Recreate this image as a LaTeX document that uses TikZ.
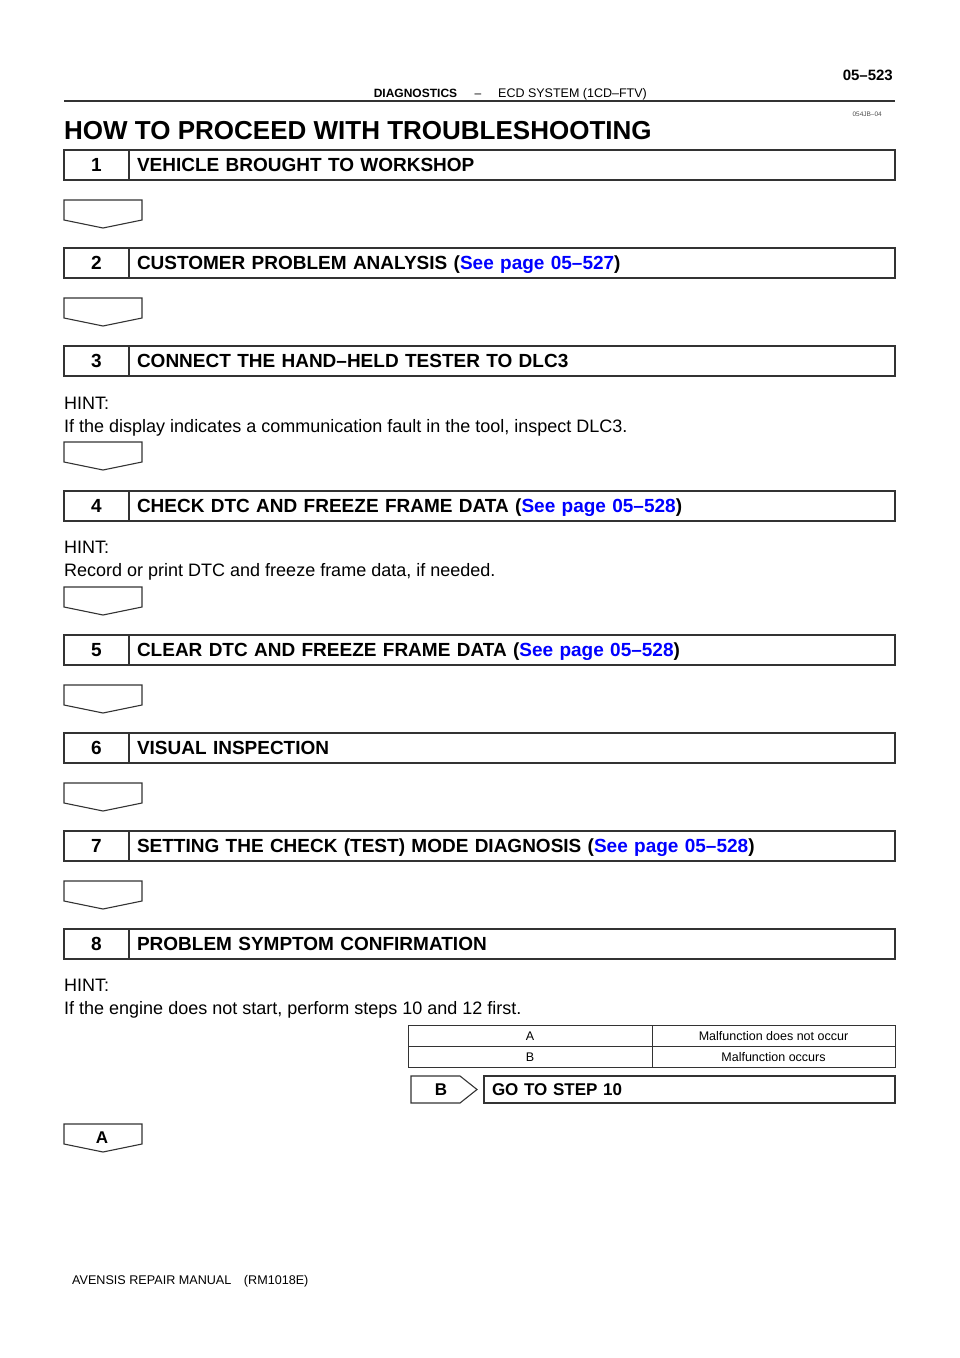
\documentclass[tikz,border=0pt]{standalone}
\usepackage{fontspec}
\setmainfont{Liberation Sans}
\definecolor{linkblue}{RGB}{0,0,255}
\begin{document}
\begin{tikzpicture}[x=1pt,y=-1pt,line join=miter,
  boxline/.style={draw=black!80,line width=1.1pt,outer sep=0pt},
  numcell/.style={boxline,minimum width=65pt,minimum height=30pt,inner sep=0pt,
    font=\fontsize{19}{19}\selectfont\bfseries,text height=13.6pt,text depth=0pt},
  textcell/.style={boxline,anchor=west,text width=750pt,inner xsep=8pt,inner ysep=0pt,
    minimum height=30pt,align=left,
    font=\fontsize{19}{19}\selectfont\bfseries,text height=13.6pt,text depth=0pt},
  hint/.style={anchor=base west,inner sep=0pt,font=\fontsize{18}{18}\selectfont},
  tcell/.style={draw=black!80,line width=0.9pt,outer sep=0pt,minimum height=21pt,inner sep=0pt,
    font=\fontsize{12.5}{12.5}\selectfont,text height=9pt,text depth=0pt},
  downarr/.pic={\draw[boxline] (-39,0) -- (39,0) -- (39,20) -- (0,28) -- (-39,20) -- cycle;},
  lnk/.style={text=linkblue}]
\useasboundingbox (0,0) rectangle (960,1358);
% header
\node[anchor=base east,inner sep=0pt,font=\fontsize{15}{15}\selectfont\bfseries] (pg) at (893,80) {05–523};
\node[anchor=base,inner sep=0pt,font=\fontsize{12}{12}\selectfont\bfseries] (hd1) at (415.5,97) {DIAGNOSTICS};
\node[anchor=base,inner sep=0pt,font=\fontsize{12}{12}\selectfont] (hd2) at (478,97) {–};
\node[anchor=base,inner sep=0pt,font=\fontsize{12.5}{12.5}\selectfont] (hd3) at (572.5,97) {ECD SYSTEM (1CD–FTV)};
\coordinate (rl) at (64,101);
\coordinate (rr) at (895,101);
\draw[black!80,line width=1.3pt] (rl) -- (rr);
\node[anchor=base east,inner sep=0pt,font=\fontsize{6.5}{6.5}\selectfont,text=black!70] (code) at (882,116) {054JB–04};
\node[anchor=base west,inner sep=0pt,font=\fontsize{26}{26}\selectfont\bfseries] (title) at (64,139) {HOW TO PROCEED WITH TROUBLESHOOTING};
% steps
\node[numcell] (n1) at (96.5,165) {1};
\node[textcell] (t1) at (n1.east) {VEHICLE BROUGHT TO WORKSHOP};
\pic at (103,200) {downarr};
\node[numcell] (n2) at (96.5,263) {2};
\node[textcell] (t2) at (n2.east) {CUSTOMER PROBLEM ANALYSIS (\textcolor{linkblue}{See page 05–527})};
\pic at (103,298) {downarr};
\node[numcell] (n3) at (96.5,361) {3};
\node[textcell] (t3) at (n3.east) {CONNECT THE HAND–HELD TESTER TO DLC3};
\node[hint] (h3a) at (64,409) {HINT:};
\node[hint] (h3b) at (64,432) {If the display indicates a communication fault in the tool, inspect DLC3.};
\pic at (103,442) {downarr};
\node[numcell] (n4) at (96.5,506) {4};
\node[textcell] (t4) at (n4.east) {CHECK DTC AND FREEZE FRAME DATA (\textcolor{linkblue}{See page 05–528})};
\node[hint] (h4a) at (64,553) {HINT:};
\node[hint] (h4b) at (64,576) {Record or print DTC and freeze frame data, if needed.};
\pic at (103,587) {downarr};
\node[numcell] (n5) at (96.5,650) {5};
\node[textcell] (t5) at (n5.east) {CLEAR DTC AND FREEZE FRAME DATA (\textcolor{linkblue}{See page 05–528})};
\pic at (103,685) {downarr};
\node[numcell] (n6) at (96.5,748) {6};
\node[textcell] (t6) at (n6.east) {VISUAL INSPECTION};
\pic at (103,783) {downarr};
\node[numcell] (n7) at (96.5,846) {7};
\node[textcell] (t7) at (n7.east) {SETTING THE CHECK (TEST) MODE DIAGNOSIS (\textcolor{linkblue}{See page 05–528})};
\pic at (103,881) {downarr};
\node[numcell] (n8) at (96.5,944) {8};
\node[textcell] (t8) at (n8.east) {PROBLEM SYMPTOM CONFIRMATION};
\node[hint] (h8a) at (64,991) {HINT:};
\node[hint] (h8b) at (64,1014) {If the engine does not start, perform steps 10 and 12 first.};
% table
\node[tcell,minimum width=244pt] (ta) at (530,1035.5) {A};
\node[tcell,minimum width=243pt] (tma) at (773.5,1035.5) {Malfunction does not occur};
\node[tcell,minimum width=244pt] (tb) at (530,1056.5) {B};
\node[tcell,minimum width=243pt] (tmb) at (773.5,1056.5) {Malfunction occurs};
% B branch
\draw[boxline] (411,1076) -- (460,1076) -- (477,1089.5) -- (460,1103) -- (411,1103) -- cycle;
\node[inner sep=0pt,font=\fontsize{17}{17}\selectfont\bfseries] (bl) at (441,1089.5) {B};
\node[boxline,anchor=west,text width=395pt,inner xsep=8pt,inner ysep=0pt,minimum height=27pt,align=left,
  font=\fontsize{17}{17}\selectfont\bfseries,text height=12pt,text depth=0pt] (go) at (484,1089.5) {GO TO STEP 10};
% A arrow
\pic at (103,1124) {downarr};
\node[inner sep=0pt,font=\fontsize{17}{17}\selectfont\bfseries] (al) at (102,1138) {A};
% footer
\node[anchor=base west,inner sep=0pt,font=\fontsize{12.6}{12.6}\selectfont] (ft) at (72,1284) {AVENSIS REPAIR MANUAL\quad(RM1018E)};
\end{tikzpicture}
\end{document}
